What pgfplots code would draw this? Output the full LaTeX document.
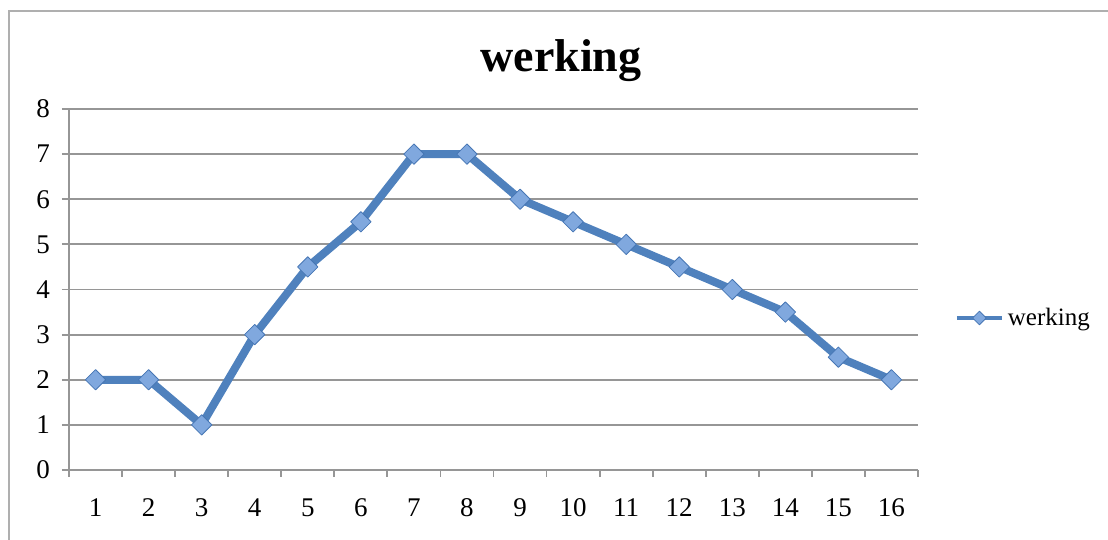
\documentclass[border=0pt]{standalone}
\usepackage{pgfplots}
\pgfplotsset{compat=1.18}
\usepackage{fontspec}
\setmainfont{Liberation Serif}

\definecolor{gridgray}{RGB}{150,150,150}
\definecolor{framegray}{RGB}{175,175,175}
\definecolor{lineblue}{RGB}{79,129,189}
\definecolor{markfill}{RGB}{128,168,222}
\definecolor{markdraw}{RGB}{70,118,180}

\pgfplotstableread{
x y
1 2
2 2
3 1
4 3
5 4.5
6 5.5
7 7
8 7
9 6
10 5.5
11 5
12 4.5
13 4
14 3.5
15 2.5
16 2
}\werkingdata

\begin{document}
\begin{tikzpicture}
\useasboundingbox (0,0) rectangle (554pt,270pt);
% chart frame
\draw[framegray, line width=1pt] (4.5pt,-2pt) -- (4.5pt,264.5pt) -- (560pt,264.5pt);
% title
\node[anchor=base, font=\fontsize{23}{27}\selectfont\bfseries] at (280.5pt,234pt) {werking};
\begin{axis}[
  at={(34.5pt,35pt)}, anchor=south west,
  scale only axis,
  width=424.5pt, height=180.5pt,
  xmin=0.5, xmax=16.5,
  ymin=0, ymax=8,
  xtick={1,...,16},
  ytick={0,...,8},
  minor xtick={0.5,1.5,...,16.5},
  major x tick style={draw=none},
  minor x tick style={draw=gridgray, line width=0.9pt},
  y tick style={draw=gridgray, line width=0.9pt},
  tick align=outside,
  major tick length=3.5pt,
  minor tick length=3.5pt,
  ymajorgrids,
  grid style={gridgray, line width=0.9pt},
  axis x line*=bottom,
  axis y line*=left,
  axis line style={gridgray, line width=0.9pt, -},
  /pgf/number format/assume math mode=true,
  tick label style={font=\fontsize{13.5}{16}\selectfont},
  yticklabel style={xshift=-2.5pt},
  xticklabel style={text height=9.1pt, text depth=0pt, yshift=-7pt},
  legend style={at={(axis description cs:1.043,0.421)}, anchor=west, draw=none, fill=none, inner sep=0pt, font=\fontsize{12.5}{15}\selectfont},
  legend image code/.code={
    \draw[lineblue, line width=2pt] (0pt,0pt) -- (22.5pt,0pt);
    \draw[markdraw, fill=markfill, line width=0.4pt] (11.25pt,0pt) +(0,3.4pt) -- +(3.4pt,0) -- +(0,-3.4pt) -- +(-3.4pt,0) -- cycle;
  },
]
\addplot[lineblue, line width=4pt, line join=round,
  mark=square*, mark size=3.6pt,
  mark options={rotate=45, draw=markdraw, fill=markfill, line width=0.4pt}]
  table[x=x, y=y] {\werkingdata};
\addlegendentry{werking}
\end{axis}
\end{tikzpicture}
\end{document}
